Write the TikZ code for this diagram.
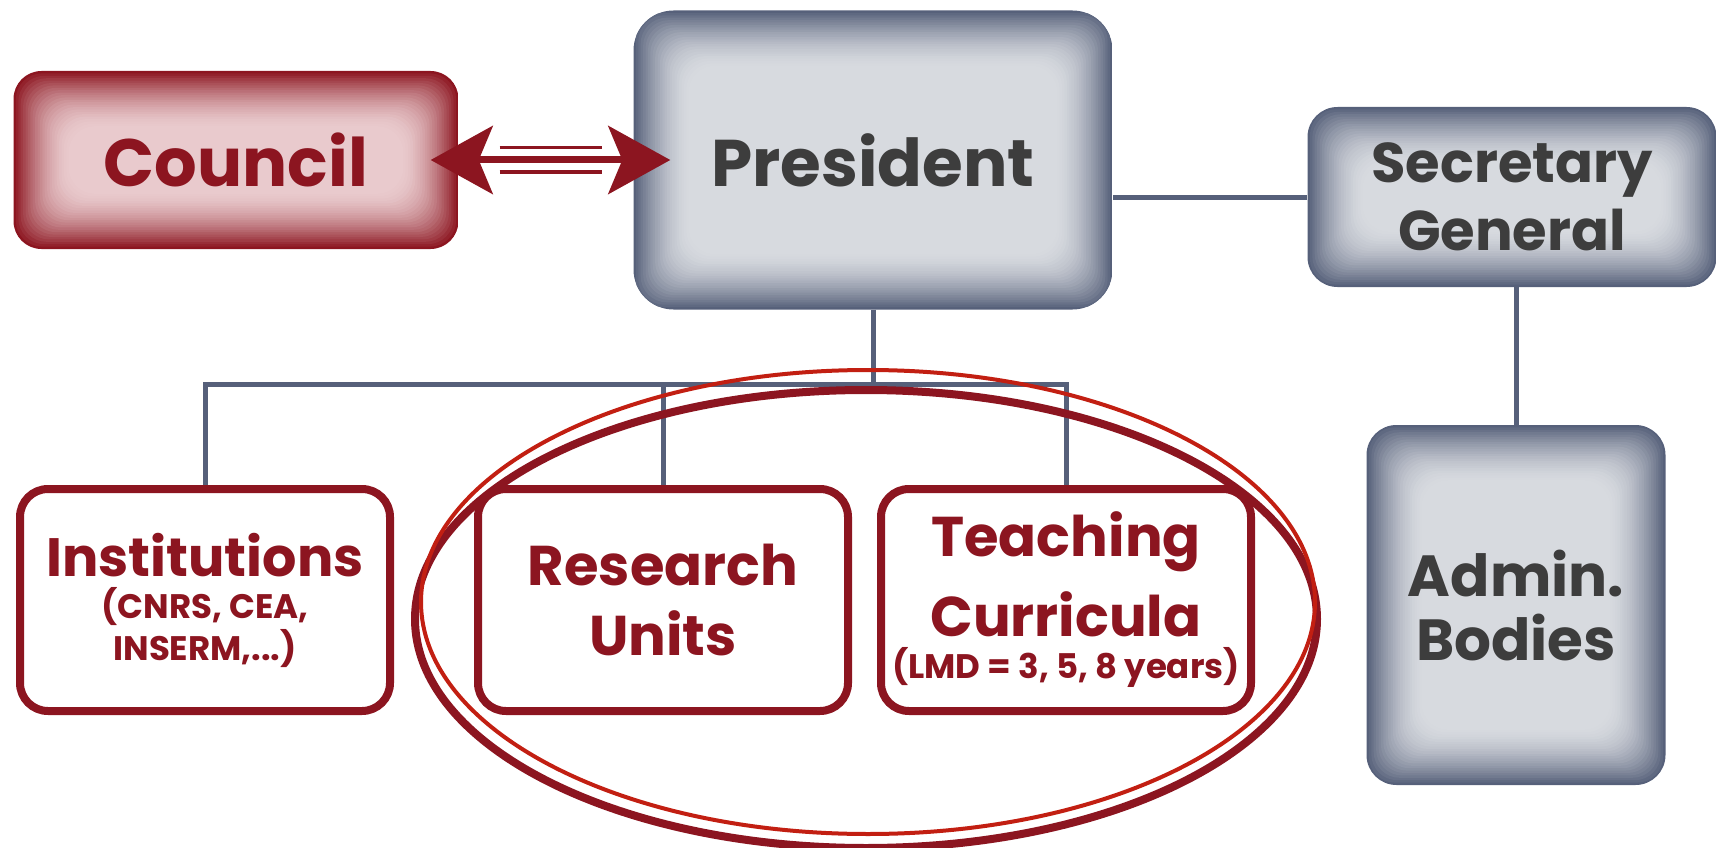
\documentclass[tikz,border=0pt]{standalone}
\usepackage{fontspec}
\setmainfont{Poppins}
\usetikzlibrary{arrows.meta}

\definecolor{crimson}{HTML}{8C1520}
\definecolor{brightred}{HTML}{C21F12}
\definecolor{slate}{HTML}{56607A}
\definecolor{paleslate}{HTML}{D7DADF}
\definecolor{palepink}{HTML}{E9CACD}
\definecolor{textgray}{HTML}{3D3D3D}
\newcommand{\subtext}{\fontsize{34}{42}\selectfont}

\tikzset{
  glow/.style 2 args={path picture={
      \foreach \i in {0,...,24}{
        \pgfmathtruncatemacro\glowpct{100*(1-\i/24)^1.7}
        \fill[#1!\glowpct!#2, rounded corners=26pt]
          ([shift={(\i*2.4pt,\i*2.4pt)}]path picture bounding box.south west) rectangle
          ([shift={(-\i*2.4pt,-\i*2.4pt)}]path picture bounding box.north east);
      }}},
  graybox/.style={rounded corners=30pt, glow={slate}{paleslate}, text=textgray,
    align=center, inner sep=0pt},
  redbox/.style={rounded corners=28pt, glow={crimson}{palepink}, text=crimson,
    align=center, inner sep=0pt},
  unitbox/.style={draw=crimson, line width=8pt, rounded corners=28pt, fill=white,
    text=crimson, align=center, inner sep=0pt,
    minimum width=370pt, minimum height=222pt},
  link/.style={draw=slate, line width=5pt},
  bigstealth/.tip={Stealth[length=62pt, width=68pt, inset=14pt]}
}

\begin{document}
\begin{tikzpicture}[x=1pt, y=-1pt, node distance=440pt]
  \useasboundingbox (0,0) rectangle (1719,848);
  % NODES
  % node President
  \node[graybox, rounded corners=40pt, minimum width=479pt, minimum height=299pt,
        font=\bfseries\fontsize{66}{70}\selectfont] (President) at (873,160) {President};
  % node Council
  \node[redbox, left of=President, node distance=637pt, minimum width=445pt, minimum height=178pt,
        font=\bfseries\fontsize{67}{70}\selectfont] (Council) {Council};
  % node Secretary
  \node[graybox, right of=President, node distance=639pt, yshift=-37pt,
        minimum width=409pt, minimum height=180pt,
        font=\bfseries\fontsize{56}{68}\selectfont] (Secretary) {Secretary\\General};
  % node Admin
  \node[graybox, below of=Secretary, node distance=408pt, xshift=4pt,
        minimum width=299pt, minimum height=360pt,
        font=\bfseries\fontsize{58}{64}\selectfont] (Admin) {Admin.\\Bodies};
  % anchor for the bottom row
  \node[below of=President] (row) {};
  % bottom row
  \node[unitbox, left of=row, node distance=668pt,
        font=\bfseries\fontsize{54}{42}\selectfont] (Institutions)
        {Institutions\\\subtext(CNRS, CEA,\\\subtext INSERM,...)};
  \node[unitbox, left of=row, node distance=210pt,
        font=\bfseries\fontsize{56}{70}\selectfont] (Research)
        {Research\\Units};
  \node[unitbox, right of=row, node distance=193pt,
        font=\bfseries\fontsize{56}{80}\selectfont] (Teaching)
        {Teaching\\Curricula\\[-38pt]\subtext(LMD = 3, 5, 8 years)};

  % LINKS
  \coordinate (bus) at (President.south |- 0,384);
  \draw[link] (President.south) -- (bus);
  \draw[link] (Institutions.north) |- (bus) -| (Teaching.north);
  \draw[link] (Research.north) -- (Research.north |- bus);
  \draw[link] (Secretary.west) -- (Secretary.west -| President.east);
  \draw[link] (Admin.north) -- (Admin.north |- Secretary.south);

  % ARROWS
  \draw[crimson, line width=7pt, bigstealth-bigstealth, shorten <=-28pt, shorten >=-37pt]
    (Council) -- (President);
  \draw[crimson, line width=3pt, shorten <=41pt, shorten >=31pt]
    ([yshift=12pt]Council.east) -- ([yshift=12pt]President.west);
  \draw[crimson, line width=3pt, shorten <=41pt, shorten >=31pt]
    ([yshift=-12pt]Council.east) -- ([yshift=-12pt]President.west);

  % ellipses round the units
  \draw[crimson, line width=8pt] (866,619) ellipse [x radius=451pt, y radius=229pt];
  \draw[brightred, line width=4pt] (868,602) ellipse [x radius=447pt, y radius=232pt];
\end{tikzpicture}
\end{document}
